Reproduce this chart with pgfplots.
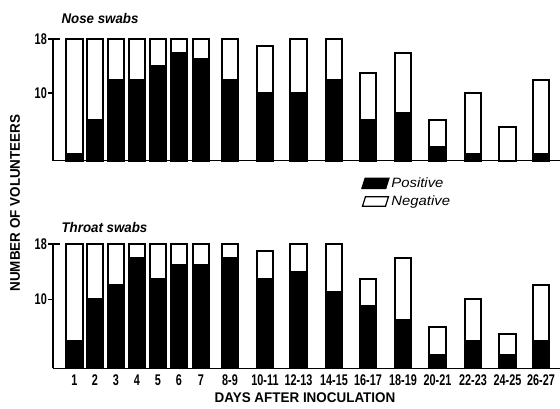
\documentclass[border=0pt]{standalone}
\usepackage{pgfplots}
\pgfplotsset{compat=1.18}
\usepackage{pgfplotstable}
\usepackage{fontspec}
\setmainfont{Liberation Sans}
\newfontfamily\tickfont{Liberation Sans Bold}[FakeStretch=0.7]
\newfontfamily\labfont{Liberation Sans Bold}[FakeStretch=0.96]
\newfontfamily\titfont{Liberation Sans Bold Italic}[FakeStretch=0.95]
\newfontfamily\legfont{Liberation Sans Italic}[FakeStretch=1.1]

\pgfplotstableread{
x pos neg
74.5 1 17
95 6 12
116 12 6
137 12 6
158 14 4
179 16 2
201 15 3
230 12 6
265 10 7
298.5 10 8
334 12 6
368 6 7
403 7 9
437.5 2 4
473 1 9
507.5 0 5
541 1 11
}\nosedata

\pgfplotstableread{
x pos neg
74.5 4 14
95 10 8
116 12 6
137 16 2
158 13 5
179 15 3
201 15 3
230 16 2
265 13 4
298.5 14 4
334 11 7
368 9 4
403 7 9
437.5 2 4
473 4 6
507.5 2 3
541 4 8
}\throatdata

\pgfplotsset{
  swab/.style={
    scale only axis, width=507pt,
    xmin=53, xmax=560, ymin=0, ymax=18,
    axis x line=bottom, axis y line=left,
    axis line style={-, line width=1.7pt, black},
    ybar stacked, bar width=16.5,
    ytick={10,18},
    /pgf/number format/assume math mode=true,
    yticklabel style={font=\fontsize{15.5}{15.5}\tickfont, inner sep=1pt},
    y tick style={line width=1.5pt, black},
    tick align=outside, major tick length=5pt,
    extra y ticks={18}, extra y tick labels={},
    extra y tick style={tick align=inside, major tick length=7pt, line width=1.5pt},
    clip=false,
    every axis plot/.append style={line width=2pt, draw=black},
  }
}

\begin{document}
\begin{tikzpicture}
\useasboundingbox (0,0) rectangle (560pt,408pt);

% Nose swabs
\begin{axis}[swab, at={(53pt,247.5pt)}, anchor=south west, height=121.5pt,
  xtick=\empty,
  legend style={at={(axis description cs:0.608,-0.125)}, anchor=north west,
    draw=none, fill=none, font=\fontsize{13.5}{13.5}\legfont,
    row sep=3pt, inner sep=0pt},
  legend cell align=left,
]
\addplot[fill=black, forget plot] table[x=x, y=pos] {\nosedata};
\addplot[fill=white, forget plot] table[x=x, y=neg] {\nosedata};
\addlegendimage{legend image code/.code={\fill[black] (0pt,-4.5pt) -- (23pt,-4.5pt) -- (26pt,5pt) -- (3pt,5pt) -- cycle;}}
\addlegendentry{Positive}
\addlegendimage{legend image code/.code={\draw[black, fill=white, line width=1.2pt] (0pt,-4.5pt) -- (23pt,-4.5pt) -- (26pt,5pt) -- (3pt,5pt) -- cycle;}}
\addlegendentry{Negative}
\node[anchor=west, font=\fontsize{14}{14}\titfont] at (axis description cs:0.01,1.17) {Nose swabs};
\end{axis}

% Throat swabs
\begin{axis}[swab, at={(53pt,39.6pt)}, anchor=south west, height=124.4pt,
  xtick={74.5,95,116,137,158,179,201,230,265,298.5,334,368,403,437.5,473,507.5,541},
  xticklabels={1,2,3,4,5,6,7,8-9,10-11,12-13,14-15,16-17,18-19,20-21,22-23,24-25,26-27},
  x tick style={draw=none},
  xticklabel style={font=\fontsize{15.5}{15.5}\tickfont, inner sep=1pt, yshift=-0.5pt},
]
\addplot[fill=black] table[x=x, y=pos] {\throatdata};
\addplot[fill=white] table[x=x, y=neg] {\throatdata};
\node[anchor=west, font=\fontsize{14}{14}\titfont] at (axis description cs:0.01,1.13) {Throat swabs};
\end{axis}

\node[font=\fontsize{14}{14}\labfont] at (305pt,10pt) {DAYS AFTER INOCULATION};
\node[rotate=90, font=\fontsize{14}{14}\labfont] at (15pt,205pt) {NUMBER OF VOLUNTEERS};
\end{tikzpicture}
\end{document}
